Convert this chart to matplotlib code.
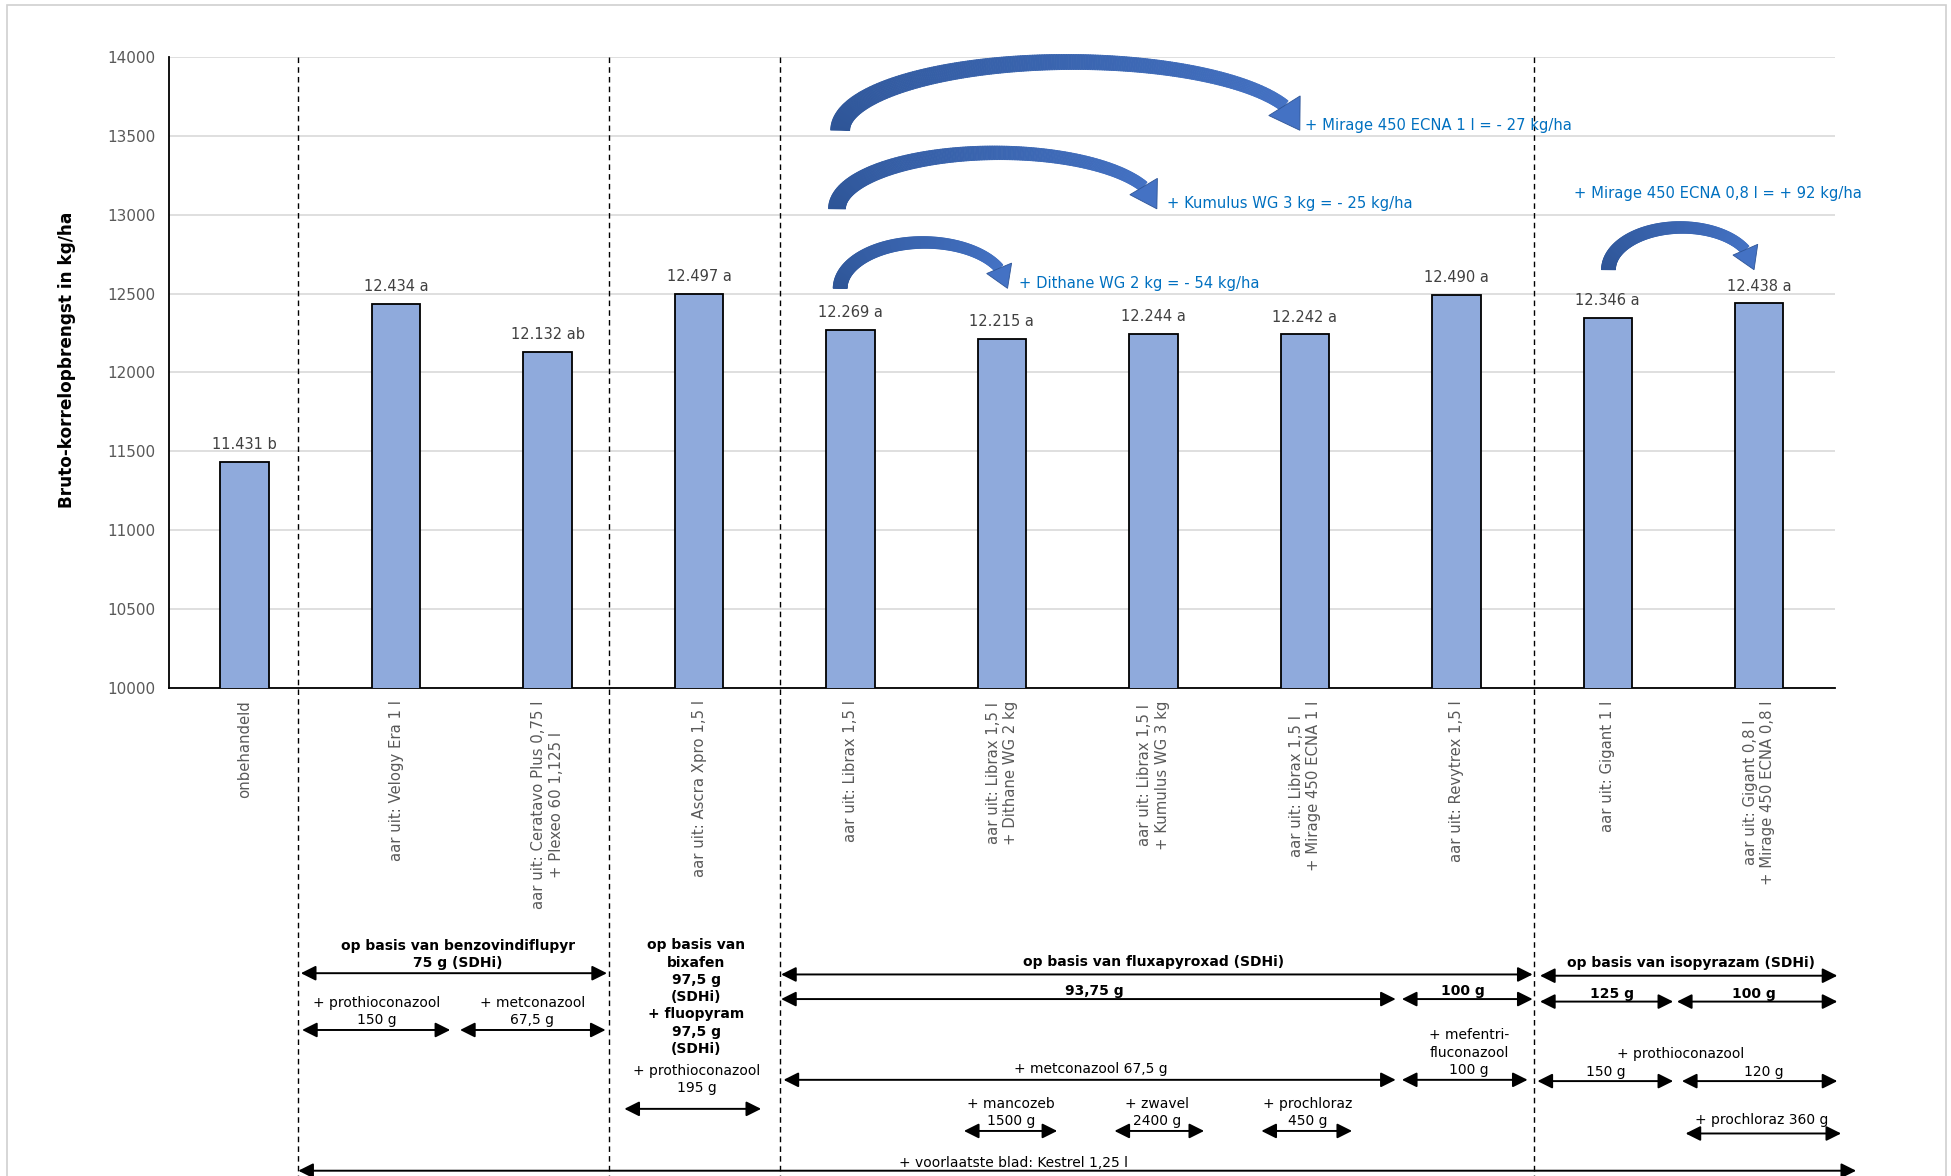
import numpy as np
import matplotlib.pyplot as plt
from matplotlib.collections import PolyCollection
from matplotlib.patches import Polygon, Rectangle
from matplotlib.transforms import blended_transform_factory
from matplotlib.colors import to_rgb

# data
categories = ['onbehandeld',
              'aar uit: Velogy Era 1 l',
              'aar uit: Ceratavo Plus 0,75 l\n+ Plexeo 60 1,125 l',
              'aar uit: Ascra Xpro 1,5 l',
              'aar uit: Librax 1,5 l',
              'aar uit: Librax 1,5 l\n+ Dithane WG 2 kg',
              'aar uit: Librax 1,5 l\n+ Kumulus WG 3 kg',
              'aar uit: Librax 1,5 l\n+ Mirage 450 ECNA 1 l',
              'aar uit: Revytrex 1,5 l',
              'aar uit: Gigant 1 l',
              'aar uit: Gigant 0,8 l\n+ Mirage 450 ECNA 0,8 l']
yields = [11431, 12434, 12132, 12497, 12269, 12215, 12244, 12242, 12490, 12346, 12438]
letters = ['b', 'a', 'ab', 'a', 'a', 'a', 'a', 'a', 'a', 'a', 'a']

# extra product effects (from treatment -> to treatment)
effect_labels = ['+ Mirage 450 ECNA 1 l = - 27 kg/ha',
                 '+ Kumulus WG 3 kg = - 25 kg/ha',
                 '+ Dithane WG 2 kg = - 54 kg/ha',
                 '+ Mirage 450 ECNA 0,8 l = + 92 kg/ha']

BAR = '#8FAADC'
BLUE_TXT = '#0070C0'
GRAY = '#595959'

fig = plt.figure(figsize=(19.51, 11.76), dpi=100)
ax = fig.add_axes([0.0866, 0.415, 0.8539, 0.5366])

x = np.arange(len(categories))
ax.bar(x, yields, width=0.32, color=BAR, edgecolor='black', linewidth=1.3, zorder=3)
for xi, v, l in zip(x, yields, letters):
    ax.annotate(f'{v / 1000:.3f} {l}', (xi, v), xytext=(0, 7), textcoords='offset points',
                ha='center', va='bottom', fontsize=10.5, color='#404040')

ax.set_xlim(-0.5, len(categories) - 0.5)
ax.set_ylim(10000, 14000)
ax.set_yticks(np.arange(10000, 14001, 500))
ax.grid(axis='y', color='#D9D9D9', linewidth=1.2, zorder=0)
ax.set_axisbelow(True)
for s in ['top', 'right']:
    ax.spines[s].set_visible(False)
ax.spines['left'].set_linewidth(1.3)
ax.spines['bottom'].set_linewidth(1.3)
ax.tick_params(axis='both', length=0, labelsize=11, labelcolor=GRAY)
ax.tick_params(axis='y', pad=10)
ax.tick_params(axis='x', pad=9)
ax.set_xticks(x)
ax.set_xticklabels(categories, rotation=90, fontsize=10.7, multialignment='center')
ax.set_ylabel('Bruto-korrelopbrengst in kg/ha', fontsize=12.2, fontweight='bold')
ax.yaxis.set_label_coords(-0.056, 0.52)

trans = blended_transform_factory(ax.transData, ax.transAxes)

# section dividers
for xv in [0.354, 2.408, 3.534, 8.512]:
    ax.plot([xv, xv], [1.0, -0.8], transform=trans, color='black', lw=1,
            ls=(0, (4, 3)), clip_on=False, zorder=4)

# curved block arrows
def curved_arrow(x0, x1, y0, ytop, w0, w1, head_w, head_l):
    t = np.linspace(0, np.pi, 300)
    xc, a = (x0 + x1) / 2, (x1 - x0) / 2
    pts = ax.transData.transform(np.column_stack([xc - a * np.cos(t), y0 + (ytop - y0) * np.sin(t)]))
    tip = pts[-1]
    dist = np.hypot(*(pts - tip).T)
    k = int(np.argmax(dist < head_l))
    body = pts[:k + 1]
    base = body[-1]
    tang = np.gradient(body, axis=0)
    tang /= np.hypot(*tang.T)[:, None]
    nrm = np.column_stack([-tang[:, 1], tang[:, 0]])
    w = np.linspace(w0, w1, len(body))[:, None] / 2
    left, right = body + nrm * w, body - nrm * w
    inv = ax.transData.inverted()
    c0, c1 = np.array(to_rgb('#2E5597')), np.array(to_rgb('#4472C4'))
    quads, cols = [], []
    for i in range(len(body) - 1):
        quads.append(inv.transform(np.array([left[i], left[i + 1], right[i + 1], right[i]])))
        f = i / (len(body) - 1)
        cols.append(c0 + (c1 - c0) * f)
    pc = PolyCollection(quads, facecolors=cols, edgecolors=cols, linewidths=0.6,
                        clip_on=False, zorder=5)
    ax.add_collection(pc, autolim=False)
    d = (tip - base) / np.hypot(*(tip - base))
    p = np.array([-d[1], d[0]])
    head = np.array([base + p * head_w / 2, tip, base - p * head_w / 2])
    ax.add_patch(Polygon(inv.transform(head), closed=True, fc=c1, ec='#2E5597', lw=0.6,
                         clip_on=False, zorder=5))

curved_arrow(3.932, 6.967, 13535, 13968, 19, 12, 37, 30)
curved_arrow(3.911, 6.023, 13037, 13392, 17, 11, 32, 26)
curved_arrow(3.932, 5.037, 12533, 12824, 14, 10, 27, 22)
curved_arrow(9.005, 9.966, 12651, 12919, 14, 10, 27, 22)

for (lx, ly), s in zip([(7.0, 13566), (6.088, 13069), (5.111, 12564), (8.775, 13132)], effect_labels):
    ax.text(lx, ly, s, color=BLUE_TXT, fontsize=10.6, ha='left', va='center', zorder=6)

# bottom annotation block
def span(x0, x1, y):
    ax.annotate('', xy=(x1, y), xytext=(x0, y), xycoords=trans, textcoords=trans,
                arrowprops=dict(arrowstyle='<|-|>,head_length=0.5,head_width=0.25',
                                mutation_scale=18, lw=1.4, color='black',
                                shrinkA=0, shrinkB=0),
                annotation_clip=False)

def label(xv, y, s, bold=False):
    ax.text(xv, y, s, transform=trans, ha='center', va='center', fontsize=10,
            fontweight='bold' if bold else 'normal', linespacing=1.3, clip_on=False)

label(1.406, -0.422, 'op basis van benzovindiflupyr\n75 g (SDHi)', True)
span(0.371, 2.392, -0.452)
label(0.872, -0.513, '+ prothioconazool\n150 g')
span(0.379, 1.357, -0.542)
label(1.899, -0.513, '+ metconazool\n67,5 g')
span(1.422, 2.383, -0.542)

label(2.983, -0.490, 'op basis van\nbixafen\n97,5 g\n(SDHi)\n+ fluopyram\n97,5 g\n(SDHi)', True)
label(2.983, -0.620, '+ prothioconazool\n195 g')
span(2.507, 3.410, -0.667)

label(5.998, -0.434, 'op basis van fluxapyroxad (SDHi)', True)
span(3.542, 8.504, -0.454)
label(5.612, -0.481, '93,75 g', True)
span(3.542, 7.600, -0.493)
label(8.044, -0.481, '100 g', True)
span(7.641, 8.504, -0.493)
label(5.587, -0.604, '+ metconazool 67,5 g')
span(3.558, 7.600, -0.621)
label(8.085, -0.578, '+ mefentri-\nfluconazool\n100 g')
span(7.641, 8.471, -0.621)
label(5.062, -0.673, '+ mancozeb\n1500 g')
span(4.749, 5.365, -0.702)
label(6.023, -0.673, '+ zwavel\n2400 g')
span(5.743, 6.335, -0.702)
label(7.017, -0.673, '+ prochloraz\n450 g')
span(6.713, 7.312, -0.702)

label(9.547, -0.436, 'op basis van isopyrazam (SDHi)', True)
span(8.553, 10.516, -0.456)
label(9.029, -0.485, '125 g', True)
span(8.553, 9.432, -0.497)
label(9.966, -0.485, '100 g', True)
span(9.457, 10.516, -0.497)
label(9.481, -0.580, '+ prothioconazool')
label(8.988, -0.609, '150 g')
label(10.032, -0.609, '120 g')
span(8.536, 9.432, -0.623)
span(9.490, 10.516, -0.623)
label(10.015, -0.684, '+ prochloraz 360 g')
span(9.514, 10.541, -0.706)

label(5.078, -0.753, '+ voorlaatste blad: Kestrel 1,25 l')
span(0.354, 10.640, -0.765)

# outer chart border
fig.add_artist(Rectangle((7 / 1951, -0.01), 1939 / 1951, 1 - 5 / 1176 + 0.01,
                         transform=fig.transFigure, fill=False, ec='#D0D0D0', lw=1.2))

plt.savefig('out.png', dpi=100)
